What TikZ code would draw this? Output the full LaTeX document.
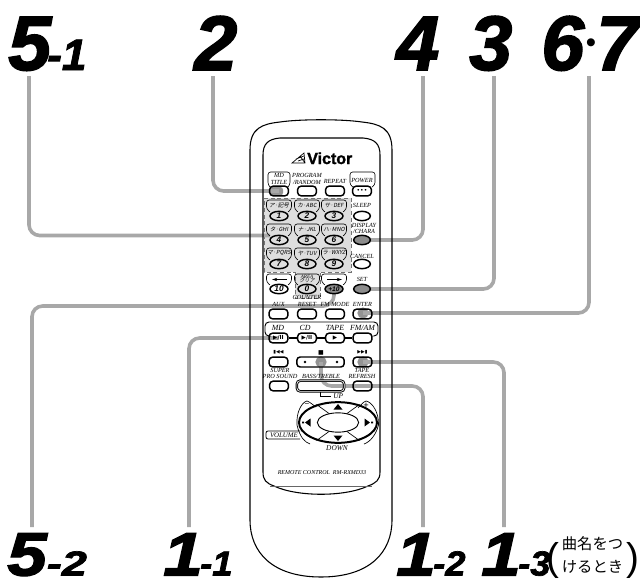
\documentclass[tikz,border=0pt]{standalone}
\usepackage{graphicx}
\usepackage{fontspec}
\usetikzlibrary{shapes.geometric,arrows.meta}
\setmainfont{Liberation Serif}
\newfontfamily\sansbi[UprightFont=* Bold Italic]{Liberation Sans}
\newfontfamily\numf[UprightFont=* Bold Italic,FakeBold=2]{Liberation Sans}
\newfontfamily\logof[UprightFont=* Bold,FakeBold=1.5]{Liberation Sans}
\newfontfamily\plain{Liberation Sans}
\newfontfamily\sym{DejaVu Sans}
\newfontfamily\jp{Noto Sans CJK JP}
\newfontfamily\jpi[FakeSlant=0.2]{Noto Sans CJK JP}
\newcommand{\bigT}{\fontsize{58}{58}\selectfont}
\newcommand{\subT}{\fontsize{33}{33}\selectfont}
\newcommand{\bigB}[1]{\scalebox{1.16}[1]{\fontsize{46}{46}\selectfont #1}}
\newcommand{\subB}[1]{\scalebox{1.05}[1]{\fontsize{26}{26}\selectfont #1}}
\pgfdeclarelayer{under}
\pgfsetlayers{under,main}
\definecolor{conn}{HTML}{A8A8A8}
\definecolor{padgray}{HTML}{DEDEDE}
\definecolor{keyg}{HTML}{8C8C8C}
\tikzset{
  numlab/.style={inner sep=0pt,anchor=base west,font=\numf},
  connector/.style={draw=conn,line width=2.7pt,rounded corners=8pt},
  btn/.style={draw,line width=1.1pt,rounded corners=2.5pt,minimum width=14pt,minimum height=7.2pt,inner sep=0pt},
  widebtn/.style={btn,minimum width=35.5pt,minimum height=7.5pt},
  ov/.style={draw,ellipse,line width=1.1pt,minimum width=13.5pt,minimum height=7pt,inner sep=0pt,font=\sansbi\fontsize{6.2}{6.2}\selectfont},
  ovr/.style={ov,minimum width=12.5pt},
  tiny/.style={inner sep=0pt,align=center,font=\itshape\fontsize{4.7}{4.6}\selectfont},
  big/.style={inner sep=0pt,font=\itshape\fontsize{5.9}{5.9}\selectfont},
  jpl/.style={inner sep=0pt,font=\jpi\fontsize{4.2}{4.2}\selectfont},
  lbox/.style={draw,line width=.45pt,rounded corners=2pt},
  blob/.style={circle,fill=keyg!75!conn,inner sep=0pt,minimum size=8.5pt},
  glyph/.style={inner sep=0pt,font=\sym\fontsize{4.5}{4.5}\selectfont},
}
\begin{document}
\begin{tikzpicture}[x=.75pt,y=-.75pt]
\useasboundingbox (0,0) rectangle (640,579);
% body
\draw[line width=.8pt] (250,150) .. controls (250,128) and (262,124) .. (280,122) .. controls (300,119) and (342,119) .. (362,122) .. controls (380,124) and (392,128) .. (392,150) -- (392,520) .. controls (392,552) and (370,577) .. (321,577) .. controls (272,577) and (250,552) .. (250,520) -- cycle;
\draw[line width=.8pt] (263,155) .. controls (263,144) and (268,139) .. (280,138) -- (363,138) .. controls (375,139) and (380,144) .. (380,155) -- (380,472) .. controls (380,480) and (376,483) .. (368,486) .. controls (345,497) and (297,497) .. (274,486) .. controls (266,483) and (263,480) .. (263,472) -- cycle;
\draw[line width=.6pt,draw=black!60] (270,486) -- (372,486);
% logo
\node[inner sep=0pt,anchor=base west,font=\logof\fontsize{12}{12}\selectfont] (logo) at (307,164) {Victor};
\draw[line width=.5pt] (292,163) -- (305,163) -- (304,153) -- cycle (296,159) -- (304,156) (298,161) -- (304,159) (300,156) -- (305,163);
% top row
\node[btn] (mdtitle) at (279,191) {};
\node[btn] (prog) at (307,191) {};
\node[btn] (rep) at (335,191) {};
\node[btn] (power) at (362,191) {\sym\fontsize{4.5}{4.5}\selectfont •••};
\draw[lbox] (270,187) -- (268,185) -- (268,172) -- (290,172) -- (290,185) -- (288,187);
\draw[lbox] (353,187) -- (350,185) -- (350,172) -- (375,172) -- (375,185) -- (372,187);
\node[tiny] (tmd) at (279,179) {MD\\TITLE};
\node[tiny] (tpr) at (307,179) {PROGRAM\\/RANDOM};
\node[tiny] (tre) at (335,181.5) {REPEAT};
\node[tiny] (tpo) at (362,180.5) {POWER};
% keypad
\foreach \n/\x/\y/\t/\c in {1/279/216/ア·記号/1,2/307/216/カ·ABC/2,3/334/216/サ·DEF/3,4/279/240/タ·GHI/4,5/307/240/ナ·JKL/5,6/334/240/ハ·MNO/6,7/279/264/マ·PQRS/7,8/307/264/ヤ·TUV/8,9/334/264/ラ·WXYZ/9}{
  \node[ov] (k\n) at (\x,\y) {\c};
  \draw[lbox] (\x-9,\y-4) -- (\x-12.5,\y-7) -- (\x-12.5,\y-16) -- (\x+12.5,\y-16) -- (\x+12.5,\y-7) -- (\x+9,\y-4);
  \node[jpl] (kl\n) at (\x,\y-11) {\t};
}
\node[ovr] (sleep) at (362,216) {};
\node[ovr,fill=keyg] (display) at (362,240) {};
\node[ovr] (cancel) at (362,264) {};
\node[ovr,fill=keyg] (setk) at (362,289) {};
\node[tiny] (tsl) at (362,205) {SLEEP};
\node[tiny] (tdi) at (364,228.5) {DISPLAY\\/CHARA};
\node[tiny] (tca) at (362,256) {CANCEL};
\node[tiny] (tse) at (362,279) {SET};
% row 4
\node[ov] (k10) at (279,289) {10};
\node[ov] (k0) at (307,289) {0};
\node[ov,fill=keyg] (kp10) at (334,289) {\fontsize{5}{5}\selectfont +10};
\foreach \x in {279,307,334}{\draw[lbox] (\x-9,285) -- (\x-12.5,282) -- (\x-12.5,274) -- (\x+12.5,274) -- (\x+12.5,282) -- (\x+9,285);}
\draw[line width=.9pt,-{Stealth[length=4pt,width=2.5pt]}] (287,279.5) -- (272,279.5);
\draw[line width=.9pt,-{Stealth[length=4pt,width=2.5pt]}] (327,279.5) -- (342,279.5);
\node[tiny,font=\itshape\fontsize{3.8}{3.8}\selectfont] (tar) at (307,276.5) {AREA};
\node[jpl,font=\jpi\fontsize{3.8}{3.8}\selectfont] (tcl) at (307,281) {クリア};
% aux row
\node[btn] (aux) at (278.5,314) {};
\node[btn] (reset) at (307,314) {};
\node[btn] (fm) at (335,314) {};
\node[btn] (enter) at (362.5,314) {};
\node[tiny] (taux) at (278.5,304) {AUX};
\node[tiny] (tcr) at (307,301) {COUNTER\\RESET};
\node[tiny] (tfm) at (335,304) {FM MODE};
\node[tiny] (ten) at (362.5,304) {ENTER};
% source panel
\node[btn] (md) at (278.5,338) {\sym\fontsize{4.2}{4.2}\selectfont\bfseries ▶/II};
\node[btn] (cd) at (307,338) {\sym\fontsize{4.2}{4.2}\selectfont\bfseries ▶/II};
\node[btn] (tape) at (335,338) {\sym\fontsize{4.2}{4.2}\selectfont ▶};
\node[btn] (fmam) at (362.5,338) {};
\draw[line width=.7pt,rounded corners=3pt] (md.west) ++(0,-2) -- (265,336) -- (265,322) -- (378,322) -- (378,336) -- (372.5,336);
\draw[line width=.9pt] (md.east) -- (cd.west) (cd.east) -- (tape.west) (tape.east) -- (fmam.west);
\node[big] (tmdd) at (278,327.5) {MD};
\node[big] (tcd) at (305,327.5) {CD};
\node[big] (ttp) at (335,327.5) {TAPE};
\node[big] (tfa) at (362.5,327.5) {FM/AM};
% transport
\node[btn] (prev) at (278.5,362) {};
\node[widebtn] (stop) at (320.5,362) {};
\node[btn] (next) at (362.5,362) {};
\fill (305,362) circle (1pt) (337,362) circle (1pt);
\node[glyph] (gp) at (278.5,352.5) {\fontsize{3.6}{3.6}\selectfont ▮◀◀};
\node[glyph] (gs) at (321,352.5) {■};
\node[glyph] (gn) at (362.5,352.5) {\fontsize{3.6}{3.6}\selectfont ▶▶▮};
\node[tiny] (tsup) at (280,373.5) {SUPER\\PRO SOUND};
\node[tiny] (tbt) at (321,376) {BASS/TREBLE};
\node[tiny] (ttr) at (362,373.5) {TAPE\\REFRESH};
\node[btn] (sup) at (279,386) {};
\node[widebtn,double,line width=.7pt,double distance=.5pt,minimum height=8pt] (bass) at (320.5,386) {};
\node[btn] (tref) at (362.5,386) {};
\coordinate (upe) at (331,396.5);
\draw[line width=.5pt] (bass.south) |- (upe);
\node[tiny,font=\itshape\fontsize{5.5}{5.5}\selectfont,anchor=west] (tup) at (333,396.5) {UP};
% dial
\node[draw,ellipse,line width=1.5pt,minimum width=58.5pt,minimum height=30.5pt,inner sep=0pt] (dial) at (338,422.5) {};
\node[draw,ellipse,line width=.7pt,minimum width=31pt,minimum height=14.5pt,inner sep=0pt] (inner) at (338,422.5) {};
\draw[line width=.5pt] (inner.135) -- (dial.140) (inner.45) -- (dial.40) (inner.225) -- (dial.220) (inner.315) -- (dial.320);
\fill (338,404) -- (342.5,409.5) -- (333.5,409.5) -- cycle;
\fill (338,441) -- (342.5,435.5) -- (333.5,435.5) -- cycle;
\fill (305,422.5) -- (310.5,418.5) -- (310.5,426.5) -- cycle;
\fill (370,422.5) -- (364.5,418.5) -- (364.5,426.5) -- cycle;
\fill (302,421.7) rectangle (304,423.3) (371,421.7) rectangle (373,423.3);
\draw[line width=.5pt] (310,444) .. controls (305,442) and (300,438) .. (297,425) .. controls (296,412) and (302,402) .. (307,401) .. controls (310,402) and (313,405) .. (316,407);
\draw[line width=.5pt] (364,444) .. controls (370,442) and (376,435) .. (378.5,425) .. controls (379,412) and (372,402) .. (366,401) .. controls (363,402) and (361,405) .. (358,408);
\node[inner sep=0pt,font=\plain\fontsize{6}{6}\selectfont] (minus) at (307,405) {−};
\node[inner sep=0pt,font=\plain\fontsize{7}{7}\selectfont] (plus) at (366,406) {+};
\node[tiny,font=\itshape\fontsize{5.2}{5.2}\selectfont] (tvo) at (284,435) {VOLUME};
\draw[line width=.6pt,rounded corners=1.5pt] (300,431) -- (266,431) -- (266,439) -- (300,439);
\node[tiny,font=\itshape\fontsize{5.5}{5.5}\selectfont] (tdo) at (337,448.5) {DOWN};
\node[tiny,font=\itshape\fontsize{4.5}{4.5}\selectfont] (tre2) at (322,473) {REMOTE CONTROL\ \ RM-RXMD33};
% labels
\node[numlab] (l51) at (8,70) {{\bigT 5}{\subT\kern-3pt -1}};
\node[numlab] (l2) at (194,70) {\bigT 2};
\node[numlab] (l4) at (396,70) {\bigT 4};
\node[numlab] (l3) at (469,70) {\bigT 3};
\node[numlab] (l6) at (541,70) {\bigT 6};
\node[inner sep=0pt,font=\plain\fontsize{22}{22}\selectfont] (ldot) at (591,46) {•};
\node[numlab] (l7) at (596,70) {\bigT 7};
\node[numlab] (l52) at (7,575.5) {\bigB{5}\scalebox{1.3}[1]{\fontsize{26}{26}\selectfont -2}};
\node[numlab] (l11) at (163,575.5) {\bigB{1}\kern-2pt\subB{-1}};
\node[numlab] (l12) at (396,575.5) {\bigB{1}\kern-2pt\subB{-2}};
\node[numlab] (l13) at (481,575.5) {\bigB{1}\kern-2pt\subB{-3}};
\node[inner sep=0pt,anchor=base,font=\plain\fontsize{29}{29}\selectfont] (po) at (553,570) {(};
\node[inner sep=0pt,anchor=base,font=\plain\fontsize{29}{29}\selectfont] (pc) at (633,570) {)};
\node[inner sep=0pt,align=center,font=\jp\fontsize{11.5}{17}\selectfont] (jt) at (592.5,555) {曲名をつ\\けるとき};
% connector end points
\coordinate (c51) at (29,76);
\coordinate (c2) at (213,76);
\coordinate (c4) at (423,76);
\coordinate (c3) at (494,76);
\coordinate (c67) at (589,76);
\coordinate (c52) at (32,527);
\coordinate (c11) at (189,527);
\coordinate (c12) at (423,527);
\coordinate (c13) at (504,527);
\coordinate (e51) at (270,235.5);
\begin{pgfonlayer}{under}
  \fill[padgray] (264,198) -- (351,198) -- (351,272) -- (320,272) -- (320,298) -- (295,298) -- (295,272) -- (264,272) -- cycle;
  \draw[densely dashed,draw=black!55,line width=.5pt] (264,198) -- (351,198) -- (351,272) -- (320,272) -- (320,298) -- (295,298) -- (295,272) -- (264,272) -- cycle;
  \fill[keyg!75!conn,rounded corners=2pt] (270,187) rectangle (283,195.5);
  \node[blob] (benter) at (363,313) {};
  \node[blob] (bstop) at (321,362) {};
  \node[blob] (bnext) at (363,362) {};
  \draw[connector] (c51) |- (e51);
  \draw[connector] (c2) |- (mdtitle.center);
  \draw[connector] (c4) |- (display.center);
  \draw[connector] (c3) |- (setk.center);
  \draw[connector] (c67) |- (benter.center);
  \draw[connector] (c52) |- (kp10.center |- 0,306) [sharp corners] -- (kp10.center);
  \draw[connector] (c11) |- (md.center);
  \draw[connector] (c12) |- (bstop.center |- 0,386) -- (bstop.center);
  \draw[connector] (c13) |- (bnext.center);
\end{pgfonlayer}
\end{tikzpicture}
\end{document}
